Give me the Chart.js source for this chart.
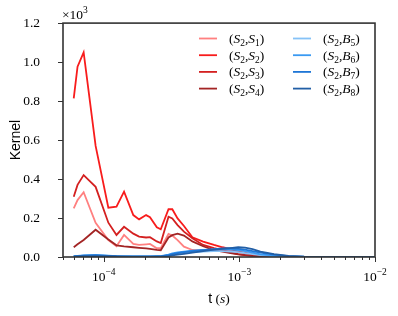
<!DOCTYPE html>
<html><head><meta charset="utf-8">
<script src="https://cdn.jsdelivr.net/npm/chart.js@4/dist/chart.umd.min.js"></script>
<style>html,body{margin:0;padding:0;background:#fff;overflow:hidden}canvas{display:block}</style>
</head><body>
<canvas id="c" width="398" height="316"></canvas>
<script>
// shared time grid (s)
const times = [6.0e-5, 6.4e-5, 7.1e-5, 8.7e-5, 1.08e-4, 1.24e-4, 1.41e-4, 1.65e-4, 1.82e-4, 2.05e-4,
  2.19e-4, 2.46e-4, 2.63e-4, 3.0e-4, 3.2e-4, 3.5e-4, 3.9e-4, 4.5e-4, 5.4e-4, 6.5e-4,
  7.5e-4, 8.6e-4, 9.8e-4, 1.1e-3, 1.25e-3, 1.43e-3, 1.8e-3, 2.3e-3, 3.0e-3, 4.7e-3, 1.0e-2];

// kernel values (raw units; axis shows x10^3)
const s2s1 = [250, 292, 332, 175, 87, 55, 113, 67, 62, 65, 67, 45, 45, 118, 110, 87, 53, 36, 33, 31, 31, 31, 25, 20, 14, 8, 3, 1, 0, 0, 0];
const s2s2 = [814, 976, 1050, 570, 253, 258, 335, 215, 193, 215, 204, 152, 142, 245, 245, 198, 159, 101, 79, 62, 50, 41, 28, 21, 12, 5, 2, 1, 0, 0, 0];
const s2s3 = [309, 370, 420, 360, 176, 113, 155, 120, 105, 100, 102, 80, 72, 207, 198, 164, 130, 96, 62, 45, 35, 22, 15, 10, 6, 3, 1, 0, 0, 0, 0];
const s2s4 = [50, 65, 87, 140, 90, 60, 55, 50, 47, 44, 42, 37, 35, 100, 112, 120, 110, 80, 55, 35, 27, 20, 14, 10, 6, 4, 1, 0, 0, 0, 0];
const s2b5 = [3, 5, 7, 8, 6, 4, 3, 3, 3, 3, 3, 3, 3, 8, 12, 18, 22, 25, 28, 30, 30, 28, 25, 20, 15, 10, 5, 2, 1, 0, 0];
const s2b6 = [4, 6, 8, 10, 7, 4, 3, 3, 3, 3, 3, 4, 4, 12, 18, 24, 28, 32, 36, 38, 40, 38, 35, 30, 22, 14, 7, 3, 1, 0, 0];
const s2b7 = [3, 5, 7, 9, 6, 4, 3, 2, 2, 2, 2, 3, 3, 10, 15, 20, 25, 30, 35, 40, 44, 45, 42, 38, 30, 22, 12, 5, 2, 0, 0];
const s2b8 = [2, 3, 4, 5, 4, 3, 2, 2, 2, 2, 2, 2, 2, 5, 8, 12, 16, 22, 30, 38, 42, 46, 50, 48, 40, 28, 15, 6, 2, 0, 0];

const seriesLabels = [['S','1'],['S','2'],['S','3'],['S','4'],['B','5'],['B','6'],['B','7'],['B','8']];
const seriesValues = [s2s1, s2s2, s2s3, s2s4, s2b5, s2b6, s2b7, s2b8];
const seriesColors = ['#ff8080', '#f81c1c', '#d42020', '#a32424', '#86c2f7', '#3a9af2', '#1e76d6', '#225fa6'];

const yTicks = [0, 200, 400, 600, 800, 1000, 1200];
const xMajorExps = [-4, -3, -2];

const SERIF = '"Liberation Serif", "DejaVu Serif", serif';
const SANS = '"Liberation Sans", Arial, sans-serif';

function drawMath(ctx, parts, x, y, align) {
  const fonts = {
    n: '13.5px ' + SERIF, i: 'italic 13.5px ' + SERIF,
    sub: '9.5px ' + SERIF, sup: '9.5px ' + SERIF, sans: '14px ' + SANS
  };
  let w = 0;
  for (const [t, k] of parts) { ctx.font = fonts[k]; w += ctx.measureText(t).width; }
  let cx = align === 'center' ? x - w / 2 : x;
  ctx.textBaseline = 'alphabetic';
  ctx.textAlign = 'left';
  for (const [t, k] of parts) {
    ctx.font = fonts[k];
    let dy = 0;
    if (k === 'sub') dy = 3;
    if (k === 'sup') dy = -6;
    ctx.fillText(t, cx, y + dy);
    cx += ctx.measureText(t).width;
  }
}

const decor = {
  id: 'decor',
  afterDatasetsDraw(chart) {
    const ctx = chart.ctx;
    const a = chart.chartArea;
    const xs = chart.scales.x, ys = chart.scales.y;
    ctx.save();
    ctx.strokeStyle = '#333';
    ctx.lineWidth = 1.6;
    ctx.strokeRect(a.left, a.top, a.right - a.left, a.bottom - a.top);
    ctx.lineWidth = 1;
    ctx.beginPath();
    for (const v of yTicks) {
      const py = Math.round(ys.getPixelForValue(v)) + 0.5;
      ctx.moveTo(a.left - 5, py); ctx.lineTo(a.left, py);
    }
    for (let e = -5; e <= -2; e++) {
      for (let k = 1; k <= 9; k++) {
        const v = k * Math.pow(10, e);
        if (v < xs.min * 0.999 || v > xs.max * 1.001) continue;
        const px = Math.round(xs.getPixelForValue(v)) + 0.5;
        const len = k === 1 ? 5 : 3;
        ctx.moveTo(px, a.bottom); ctx.lineTo(px, a.bottom + len);
      }
    }
    ctx.stroke();
    ctx.fillStyle = '#000';
    for (const e of xMajorExps) {
      const px = xs.getPixelForValue(Math.pow(10, e));
      drawMath(ctx, [['10', 'n'], ['\u2212' + Math.abs(e), 'sup']], px, a.bottom + 24, 'center');
    }
    drawMath(ctx, [['\u00d710', 'n'], ['3', 'sup']], a.left - 1, a.top - 4, 'left');
    drawMath(ctx, [['t', 'sans'], [' (', 'n'], ['s', 'i'], [')', 'n']], (a.left + a.right) / 2, a.bottom + 46, 'center');
    ctx.save();
    ctx.translate(20, (a.top + a.bottom) / 2);
    ctx.rotate(-Math.PI / 2);
    ctx.font = '14px ' + SANS;
    ctx.textAlign = 'center';
    ctx.textBaseline = 'alphabetic';
    ctx.fillText('Kernel', 0, 0);
    ctx.restore();
    const colX = [199, 293];
    const rowY0 = 38.5, rowDy = 16.7;
    chart.data.datasets.forEach((ds, i) => {
      const col = Math.floor(i / 4), row = i % 4;
      const lx = colX[col], ly = rowY0 + row * rowDy;
      ctx.strokeStyle = ds.borderColor;
      ctx.lineWidth = 1.8;
      ctx.beginPath(); ctx.moveTo(lx, ly); ctx.lineTo(lx + 18, ly); ctx.stroke();
      const lab = seriesLabels[i];
      ctx.fillStyle = '#000';
      drawMath(ctx, [['(', 'n'], ['S', 'i'], ['2', 'sub'], [',', 'n'], [lab[0], 'i'], [lab[1], 'sub'], [')', 'n']], lx + 30, ly + 4.5, 'left');
    });
    ctx.restore();
  }
};

new Chart(document.getElementById('c'), {
  type: 'line',
  data: {
    datasets: seriesValues.map((vals, i) => ({
      label: '(S2,' + seriesLabels[i][0] + seriesLabels[i][1] + ')',
      data: times.map((t, j) => ({ x: t, y: vals[j] })),
      borderColor: seriesColors[i],
      backgroundColor: seriesColors[i],
      borderWidth: 1.8,
      pointRadius: 0,
      tension: 0,
      fill: false,
      order: 10 - i
    }))
  },
  options: {
    responsive: false,
    animation: false,
    devicePixelRatio: 1,
    layout: { padding: { left: 0, top: 23, right: 23, bottom: 0 } },
    plugins: { legend: { display: false }, tooltip: { enabled: false } },
    scales: {
      x: {
        type: 'logarithmic', min: 5e-5, max: 1e-2,
        grid: { display: false }, border: { display: false },
        ticks: { display: false },
        afterFit(s) { s.height = 59; }
      },
      y: {
        type: 'linear', min: 0, max: 1200,
        grid: { display: false }, border: { display: false },
        ticks: {
          stepSize: 200, padding: 15, color: '#000',
          font: { family: SERIF, size: 13.5 },
          callback: v => (v / 1000).toFixed(1)
        },
        afterFit(s) { s.width = 63; }
      }
    }
  },
  plugins: [decor]
});
</script>
</body></html>
